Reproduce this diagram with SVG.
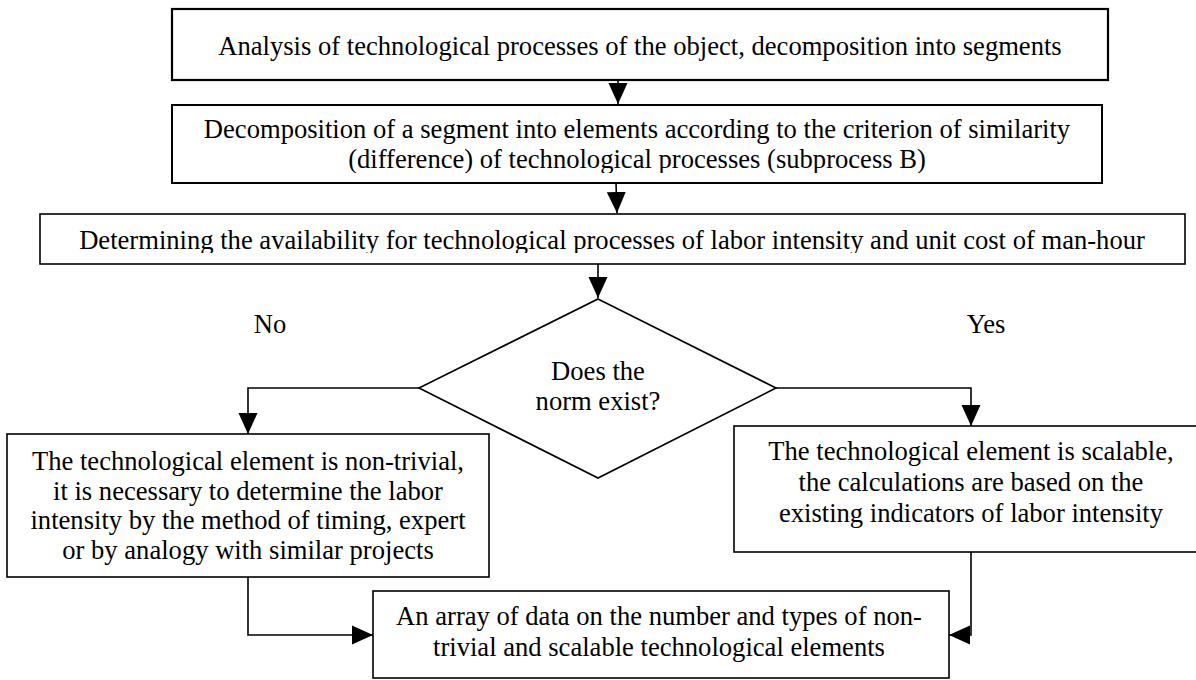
<svg xmlns="http://www.w3.org/2000/svg" width="1196" height="680" viewBox="0 0 1196 680">
<style>
  .box { fill: #fff; stroke: #000; stroke-width: 1.6; }
  .t { font-family: "Liberation Serif", "Times New Roman", serif; font-size: 26.6px; fill: #000; text-anchor: middle; }
  .c { fill: none; stroke: #000; stroke-width: 1.6; }
</style>
<defs>
  <marker id="ah" markerUnits="userSpaceOnUse" markerWidth="22" markerHeight="21" refX="21" refY="10" orient="auto" viewBox="0 0 22 21">
    <path d="M0,0.5 L21,10 L0,19.5 Z" fill="#000"/>
  </marker>
  <clipPath id="clip2"><rect x="172" y="105" width="930" height="68"/></clipPath>
  <clipPath id="clip3"><rect x="40" y="214" width="1145" height="39"/></clipPath>
</defs>
<rect width="1196" height="680" fill="#fff"/>

<g id="connectors">
  <path class="c" d="M618,80 V104" marker-end="url(#ah)"/>
  <path class="c" d="M616,183 L617,213" marker-end="url(#ah)"/>
  <path class="c" d="M598,264 V298" marker-end="url(#ah)"/>
  <path class="c" d="M419,388 H248 V434" marker-end="url(#ah)"/>
  <path class="c" d="M776,388 H971 V426" marker-end="url(#ah)"/>
  <path class="c" d="M248,577 V635 H373" marker-end="url(#ah)"/>
  <path class="c" d="M971,552 V635 H949" marker-end="url(#ah)"/>
</g>

<g id="node-analysis">
  <rect class="box" x="172" y="9" width="936" height="71" style="stroke-width:2.2"/>
  <text class="t" x="640" y="55">Analysis of technological processes of the object, decomposition into segments</text>
</g>

<g id="node-decomposition">
  <rect class="box" x="172" y="105" width="930" height="78" style="stroke-width:2"/>
  <g clip-path="url(#clip2)">
    <text class="t" x="637" y="138">Decomposition of a segment into elements according to the criterion of similarity</text>
    <text class="t" x="637" y="168">(difference) of technological processes (subprocess B)</text>
  </g>
</g>

<g id="node-determining">
  <rect class="box" x="40" y="214" width="1145" height="50"/>
  <g clip-path="url(#clip3)">
    <text class="t" x="612" y="249">Determining the availability for technological processes of labor intensity and unit cost of man-hour</text>
  </g>
</g>

<g id="node-decision">
  <polygon class="box" points="598,299 776,388 598,478 419,388"/>
  <text class="t" x="598" y="380">Does the</text>
  <text class="t" x="598" y="410">norm exist?</text>
</g>

<g id="label-no">
  <text class="t" x="270" y="333">No</text>
</g>
<g id="label-yes">
  <text class="t" x="986" y="333">Yes</text>
</g>

<g id="node-nontrivial">
  <rect class="box" x="7" y="434" width="482" height="143"/>
  <text class="t" x="248" y="470">The technological element is non-trivial,</text>
  <text class="t" x="248" y="499.5">it is necessary to determine the labor</text>
  <text class="t" x="248" y="529">intensity by the method of timing, expert</text>
  <text class="t" x="248" y="558.5">or by analogy with similar projects</text>
</g>

<g id="node-scalable">
  <rect class="box" x="734" y="426" width="474" height="126"/>
  <text class="t" x="971" y="460">The technological element is scalable,</text>
  <text class="t" x="971" y="491">the calculations are based on the</text>
  <text class="t" x="971" y="522">existing indicators of labor intensity</text>
</g>

<g id="node-array">
  <rect class="box" x="373" y="591" width="576" height="87"/>
  <text class="t" x="659" y="625">An array of data on the number and types of non-</text>
  <text class="t" x="659" y="656">trivial and scalable technological elements</text>
</g>
</svg>
